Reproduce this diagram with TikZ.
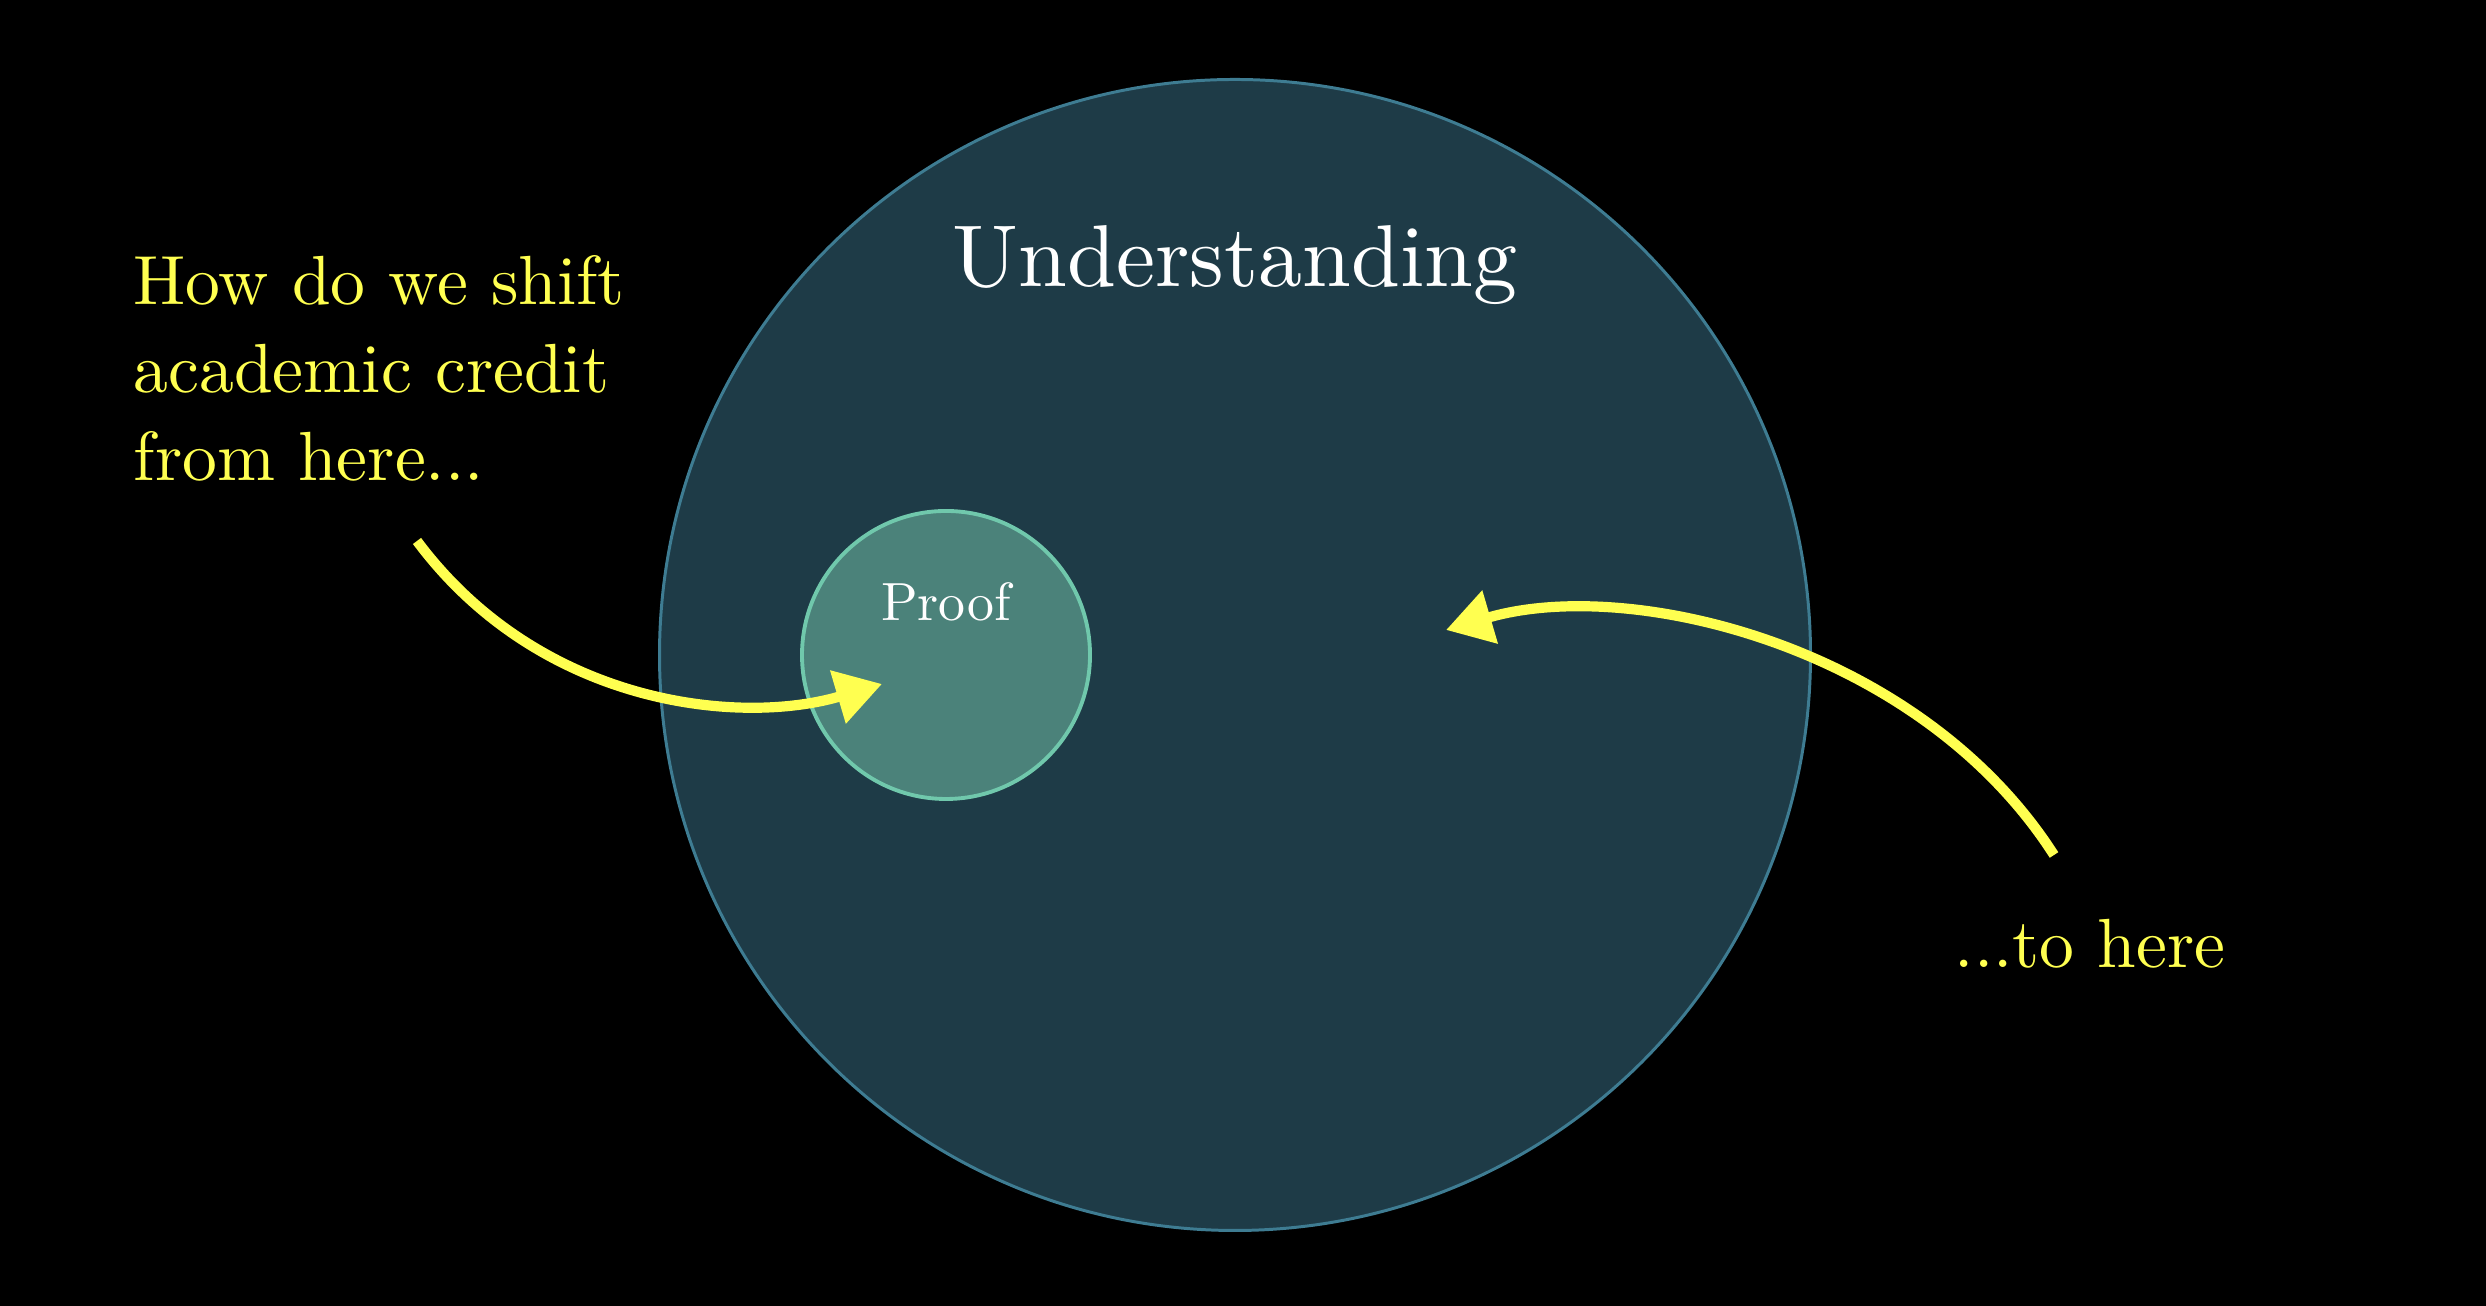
\documentclass[tikz,border=0pt]{standalone}
\usepackage{fontspec}
\setmainfont{lmroman10-regular.otf}
\usetikzlibrary{arrows.meta}
\definecolor{bigfill}{RGB}{30,59,71}
\definecolor{bigedge}{RGB}{62,124,146}
\definecolor{smallfill}{RGB}{75,130,122}
\definecolor{smalledge}{RGB}{112,200,172}
\definecolor{hiyellow}{RGB}{255,255,80}
\tikzset{
  yellowtext/.style={text=hiyellow, inner sep=0pt, font=\fontsize{19.8}{25}\selectfont},
  yellowarrow/.style={draw=hiyellow, line width=2.9pt, -{Triangle[length=0.46cm, width=0.53cm]}},
}
\begin{document}
\begin{tikzpicture}
\fill[black] (0,0) rectangle (24.86,13.06);
\useasboundingbox (0,0) rectangle (24.86,13.06);
\node[circle, minimum size=11.51cm, inner sep=0pt, fill=bigfill, draw=bigedge, line width=0.85pt] (big) at (12.35,6.51) {};
\node[circle, minimum size=2.88cm, inner sep=0pt, fill=smallfill, draw=smalledge, line width=1.1pt] (small) at (9.46,6.51) {};
\node[anchor=base, text=white, inner sep=0pt, font=\fontsize{25}{30}\selectfont] (und) at (12.35,10.19) {Understanding};
\node[anchor=base, text=white, inner sep=0pt, font=\fontsize{15.3}{18}\selectfont] (proof) at (9.46,6.85) {Proof};
\node[yellowtext, anchor=north west, align=left] (q) at (1.33,10.51) {How do we shift\\academic credit\\from here...};
\node[yellowtext, anchor=base west] (to) at (19.54,3.38) {...to here};
\coordinate (ls) at (4.17,7.65);
\coordinate (le) at (8.82,6.22);
\coordinate (rs) at (20.54,4.51);
\coordinate (re) at (14.46,6.76);
\draw[yellowarrow] (ls) .. controls (5.4,6.0) and (7.4,5.8) .. (le);
\draw[yellowarrow] (rs) .. controls (19.2,6.6) and (16.3,7.3) .. (re);
\end{tikzpicture}
\end{document}
